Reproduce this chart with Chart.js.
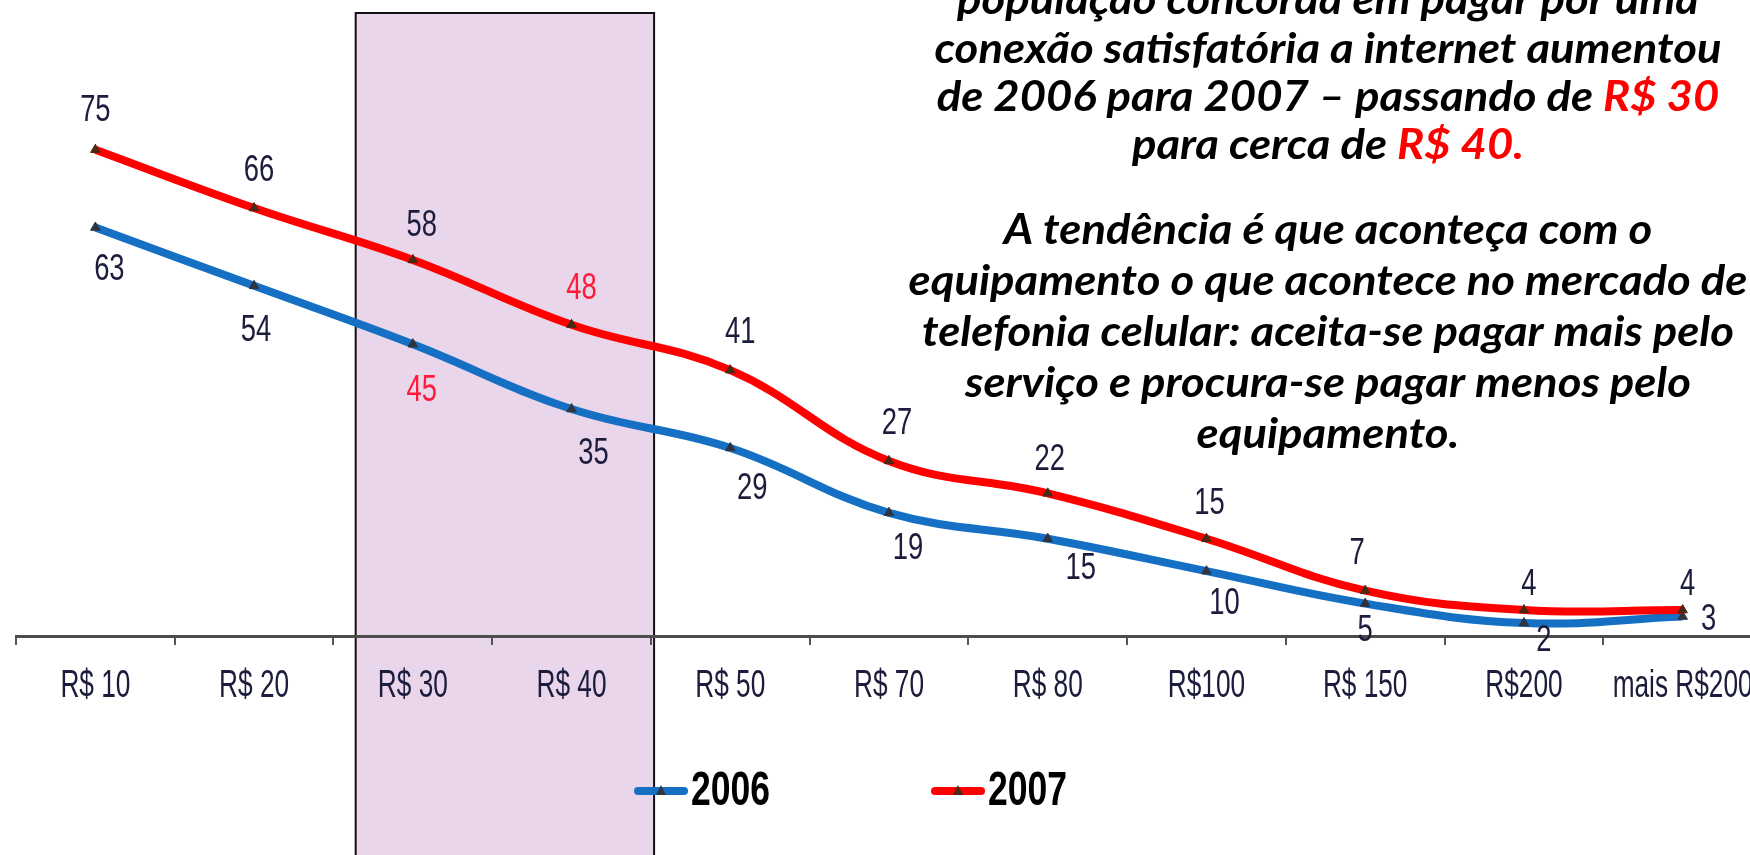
<!DOCTYPE html>
<html>
<head>
<meta charset="utf-8">
<script src="https://cdn.jsdelivr.net/npm/chart.js@4.4.0/dist/chart.umd.min.js"></script>
<style>
  html, body { margin: 0; padding: 0; background: #fff; overflow: hidden; }
  #wrap { position: absolute; left: 0; top: 0; width: 1770px; height: 855px; }
</style>
</head>
<body>
<div id="wrap"><canvas id="chart" width="1770" height="855"></canvas></div>
<script>
// data
const categories = ['R$ 10', 'R$ 20', 'R$ 30', 'R$ 40', 'R$ 50', 'R$ 70', 'R$ 80', 'R$100', 'R$ 150', 'R$200', 'mais R$200'];
const values2006 = [63, 54, 45, 35, 29, 19, 15, 10, 5, 2, 3];
const values2007 = [75, 66, 58, 48, 41, 27, 22, 15, 7, 4, 4];
const seriesNames = ['2006', '2007'];
const highlighted = { '2006': 2, '2007': 3 };   // index of the red value label

const noteLines = [
  [['população concorda em pagar por uma', '#000']],
  [['conexão satisfatória a internet aumentou', '#000']],
  [['de 2006 para 2007 – passando de ', '#000'], ['R$ 30', '#ff0000']],
  [['para cerca de ', '#000'], ['R$ 40.', '#ff0000']],
  [['A tendência é que aconteça com o', '#000']],
  [['equipamento o que acontece no mercado de', '#000']],
  [['telefonia celular: aceita-se pagar mais pelo', '#000']],
  [['serviço e procura-se pagar menos pelo', '#000']],
  [['equipamento.', '#000']]
];

// the original uses a very condensed sans; squeeze Liberation Sans to match
const SANS = "'Liberation Sans', Arimo, Arial, sans-serif";
const SQUEEZE = 0.69;
const LABEL_COLOR = '#1c1c3c';

// small nudges so value labels sit where the original put them
const labelNudge = {
  '2006': { dx: [14, 2, 9, 22, 22, 19, 33, 18, 0, 20, 26], dy: [42, 45, 47, 45, 41, 36, 30, 33, 27, 18, 3] },
  '2007': { dx: [0, 5, 9, 10, 10, 8, 2, 3, -8, 5, 5], dy: [-39, -37, -34, -36, -37, -37, -34, -35, -37, -25, -25] }
};

function squeezedText(ctx, txt, x, y, sx, align) {
  const w = ctx.measureText(txt).width * sx;
  let left = x;
  if (align === 'center') left = x - w / 2;
  else if (align === 'right') left = x - w;
  ctx.save();
  ctx.translate(left, y);
  ctx.scale(sx, 1);
  ctx.textAlign = 'left';
  ctx.fillText(txt, 0, 0);
  ctx.restore();
  return w;
}

const shadedBox = {
  id: 'shadedBox',
  beforeDraw(chart) {
    const ctx = chart.ctx;
    const x = chart.scales.x;
    const left = x.getPixelForValue(1.64);
    const right = x.getPixelForValue(3.52);
    ctx.save();
    ctx.fillStyle = '#fff';
    ctx.fillRect(0, 0, chart.width, chart.height);
    ctx.fillStyle = '#ead6ea';
    ctx.fillRect(left, 13, right - left, chart.height);
    ctx.strokeStyle = '#111';
    ctx.lineWidth = 2;
    ctx.strokeRect(left, 13, right - left, chart.height + 20);
    ctx.restore();
  }
};

const tickLabels = {
  id: 'tickLabels',
  afterDraw(chart) {
    const ctx = chart.ctx;
    const x = chart.scales.x;
    ctx.save();
    ctx.font = '38px ' + SANS;
    ctx.fillStyle = LABEL_COLOR;
    ctx.textBaseline = 'middle';
    chart.data.labels.forEach((lab, i) => {
      squeezedText(ctx, lab, x.getPixelForTick(i), x.top + 51, SQUEEZE, 'center');
    });
    ctx.restore();
  }
};

const valueLabels = {
  id: 'valueLabels',
  afterDatasetsDraw(chart) {
    const ctx = chart.ctx;
    ctx.save();
    ctx.font = '37px ' + SANS;
    ctx.textBaseline = 'middle';
    chart.data.datasets.forEach((ds, di) => {
      const meta = chart.getDatasetMeta(di);
      const nudge = labelNudge[ds.label];
      meta.data.forEach((pt, i) => {
        ctx.fillStyle = highlighted[ds.label] === i ? '#ff1a3a' : LABEL_COLOR;
        squeezedText(ctx, String(ds.data[i]), pt.x + nudge.dx[i], pt.y + nudge.dy[i], 0.74, 'center');
      });
    });
    ctx.restore();
  }
};

const noteAndLegend = {
  id: 'noteAndLegend',
  afterDraw(chart) {
    const ctx = chart.ctx;
    ctx.save();

    // slide text block
    ctx.font = 'italic bold 42px Lato';
    ctx.textBaseline = 'alphabetic';
    const sx = 787 / ctx.measureText('conexão satisfatória a internet aumentou').width;
    const baselines = [14, 63, 111, 159, 244, 295, 346, 397, 448];
    noteLines.forEach((line, i) => {
      const whole = line.map(s => s[0]).join('');
      let x = 1328 - ctx.measureText(whole).width * sx / 2;
      line.forEach(([txt, col]) => {
        ctx.fillStyle = col;
        x += squeezedText(ctx, txt, x, baselines[i], sx, 'left');
      });
    });

    // legend
    const spots = [636, 933];
    const y = 791;
    chart.data.datasets.forEach((ds, di) => {
      const x0 = spots[di];
      ctx.strokeStyle = ds.borderColor;
      ctx.lineWidth = 8;
      ctx.lineCap = 'round';
      ctx.beginPath();
      ctx.moveTo(x0 + 2, y);
      ctx.lineTo(x0 + 48, y);
      ctx.stroke();
      ctx.fillStyle = ds.pointBackgroundColor;
      ctx.beginPath();
      ctx.moveTo(x0 + 25, y - 6);
      ctx.lineTo(x0 + 30, y + 4);
      ctx.lineTo(x0 + 20, y + 4);
      ctx.closePath();
      ctx.fill();
      ctx.fillStyle = '#000';
      ctx.font = 'bold 48px ' + SANS;
      ctx.textBaseline = 'middle';
      squeezedText(ctx, ds.label, x0 + 55, y + 1, 0.74, 'left');
    });
    ctx.restore();
  }
};

new Chart(document.getElementById('chart'), {
  type: 'line',
  data: {
    labels: categories,
    datasets: [
      {
        label: seriesNames[0],
        data: values2006,
        borderColor: '#1570c4',
        borderWidth: 8,
        tension: 0.4,
        fill: false,
        clip: false,
        order: 1,
        pointStyle: 'triangle',
        pointRadius: 5.5,
        pointBackgroundColor: '#2e3440',
        pointBorderColor: '#2e3440',
        pointBorderWidth: 1
      },
      {
        label: seriesNames[1],
        data: values2007,
        borderColor: '#ff0000',
        borderWidth: 8,
        tension: 0.4,
        fill: false,
        clip: false,
        order: 0,
        pointStyle: 'triangle',
        pointRadius: 5.5,
        pointBackgroundColor: '#4a2a14',
        pointBorderColor: '#4a2a14',
        pointBorderWidth: 1
      }
    ]
  },
  options: {
    responsive: false,
    animation: false,
    devicePixelRatio: 1,
    layout: { padding: { left: 16, right: 8, top: 20, bottom: 149 } },
    plugins: {
      legend: { display: false },
      tooltip: { enabled: false }
    },
    scales: {
      x: {
        offset: true,
        grid: { display: true, offset: true, drawOnChartArea: false, drawTicks: true, tickLength: 9, color: '#555', lineWidth: 2 },
        border: { display: true, color: '#4d4d4d', width: 3 },
        ticks: { display: false, autoSkip: false },
        afterFit(scale) { scale.height = 70; }
      },
      y: { display: false, min: 0, max: 95 }
    }
  },
  plugins: [shadedBox, valueLabels, tickLabels, noteAndLegend]
});
</script>
</body>
</html>
